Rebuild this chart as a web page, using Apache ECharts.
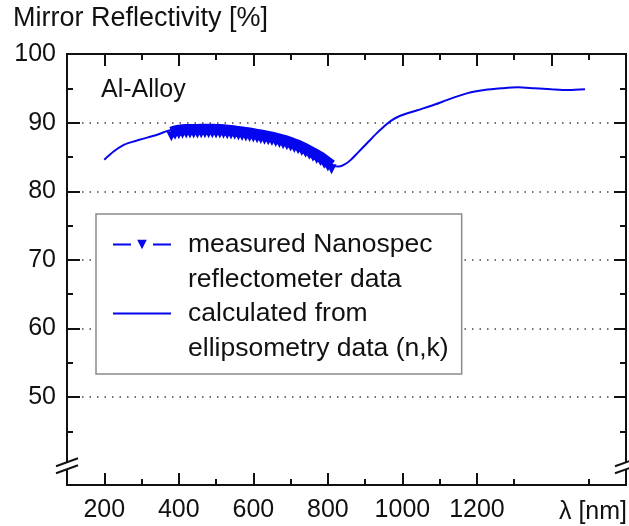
<!DOCTYPE html>
<html>
<head>
<meta charset="utf-8">
<script src="https://cdn.jsdelivr.net/npm/echarts@6/dist/echarts.min.js"></script>
<style>
  html, body { margin: 0; padding: 0; background: #fff; }
  #chart { width: 629px; height: 526px; }
</style>
</head>
<body>
<div id="chart"></div>
<script>
    'use strict';

    // wavelength axis [nm]
    const xMin = 100, xMax = 1600;
    const xBottomMajor = [200, 400, 600, 800, 1000, 1200];
    const xTopMajor = [200, 400, 600, 800, 1000, 1200, 1400];
    const xMinor = [300, 500, 700, 900, 1100, 1300, 1500];

    // reflectivity axis [%], broken at 40
    const yMin = 37.2, yMax = 100;
    const yMajor = [50, 60, 70, 80, 90, 100];
    const yMinor = [45, 55, 65, 75, 85, 95];
    const yBreak = 40;

    // calculated from ellipsometry data (n,k)
    const calcWl = [200, 225, 250, 275, 300, 340, 370, 400, 450, 500, 550, 600, 650, 700, 750, 800,
                    815, 830, 845, 860, 880, 905, 930, 950, 970, 990, 1040, 1085, 1130, 1175, 1220,
                    1265, 1310, 1355, 1400, 1445, 1490];
    const calcR = [84.6, 85.8, 86.7, 87.2, 87.6, 88.2, 88.8, 89.2, 89.3, 89.3, 89.1, 88.8, 88.2, 87.4, 86.1, 84.3,
                   83.7, 83.6, 83.9, 84.5, 85.6, 87.0, 88.4, 89.4, 90.3, 90.9, 91.8, 92.6, 93.5, 94.3, 94.75,
                   95.0, 95.15, 95.0, 94.85, 94.75, 94.85];

    // measured Nanospec reflectometer data
    const measWl = [380, 390, 400, 410, 420, 430, 440, 450, 460, 470, 480, 490, 500, 510, 520, 530,
                    540, 550, 560, 570, 580, 590, 600, 610, 620, 630, 640, 650, 660, 670, 680, 690,
                    700, 710, 720, 730, 740, 750, 760, 770, 780, 790, 800, 810];
    const measR = [88.6, 88.8, 88.9, 88.95, 89.0, 89.0, 89.0, 89.0, 89.05, 89.05, 89.05, 89.05, 89.0, 89.0, 88.95, 88.9,
                   88.85, 88.8, 88.7, 88.65, 88.55, 88.5, 88.4, 88.3, 88.2, 88.1, 88.0, 87.9, 87.75, 87.6, 87.45, 87.3,
                   87.1, 86.9, 86.7, 86.45, 86.2, 85.9, 85.6, 85.3, 85.0, 84.6, 84.2, 83.8];

    const seriesNames = ['measured Nanospec\nreflectometer data', 'calculated from\nellipsometry data (n,k)'];

    const FONT = 'Liberation Sans';
    const BLUE = '#0505ee';
    const INK = '#111';

    let chart = echarts.init(document.getElementById('chart'), null, {renderer: 'canvas'});

    function zip(xs, ys) {
        return xs.map((x, i) => [x, ys[i]]);
    }

    // one axis layer: ticks at given values, optional labels / grid lines
    function xAxisLayer(position, ticks, len, labels) {
        return {
            type: 'value', position: position, min: xMin, max: xMax,
            axisLine: {show: true, onZero: false, lineStyle: {color: INK, width: 2}},
            axisTick: {show: true, inside: true, length: len, customValues: ticks, lineStyle: {color: INK, width: 2}},
            axisLabel: labels ? {show: true, customValues: labels, margin: 13, fontFamily: FONT, fontSize: 25, color: INK,
                                 formatter: v => String(v)}
                              : {show: false},
            splitLine: {show: false}
        };
    }

    function yAxisLayer(position, ticks, len, labels, grid) {
        return {
            type: 'value', position: position, min: yMin, max: yMax,
            axisLine: {show: true, onZero: false, lineStyle: {color: INK, width: 2}},
            axisTick: {show: true, inside: true, length: len, customValues: ticks, lineStyle: {color: INK, width: 2}},
            axisLabel: labels ? {show: true, customValues: labels, margin: 11, fontFamily: FONT, fontSize: 25, color: INK,
                                 formatter: v => String(v)}
                              : {show: false},
            splitLine: grid ? {show: true, lineStyle: {color: '#444', width: 1.5, type: [1.5, 6]}} : {show: false}
        };
    }

    let option = {
        animation: false,
        backgroundColor: '#fff',
        grid: {left: 67, right: 3, top: 54, bottom: 41, containLabel: false},
        xAxis: [
            xAxisLayer('bottom', xBottomMajor, 12, xBottomMajor),
            xAxisLayer('bottom', xMinor, 6),
            xAxisLayer('top', xTopMajor, 12),
            xAxisLayer('top', xMinor, 6)
        ],
        yAxis: [
            yAxisLayer('left', yMajor, 13, yMajor, true),
            yAxisLayer('left', yMinor, 6),
            yAxisLayer('right', yMajor.slice(0, 5), 12),
            yAxisLayer('right', yMinor, 6)
        ],
        legend: {
            orient: 'vertical',
            left: 96, top: 214,
            // a blank first line keeps the icon level with the first text line
            padding: [-22, 13, 8, 16],
            itemWidth: 58, itemHeight: 12, itemGap: -36,
            backgroundColor: '#fff',
            borderColor: '#8a8a8a', borderWidth: 1.5,
            selectedMode: false,
            formatter: name => ' \n' + name,
            textStyle: {fontFamily: FONT, fontSize: 26.5, color: INK, lineHeight: 35, padding: [0, 0, 0, 12]},
            data: [
                {name: seriesNames[0], lineStyle: {width: 2, type: [18, 22]}},
                {name: seriesNames[1], itemStyle: {opacity: 0}, lineStyle: {width: 2}}
            ]
        },
        series: [
            {
                name: seriesNames[1],
                type: 'line',
                xAxisIndex: 0, yAxisIndex: 0,
                data: zip(calcWl, calcR),
                symbol: 'none',
                smooth: 0.3,
                lineStyle: {color: BLUE, width: 2},
                itemStyle: {color: BLUE}
            },
            {
                name: seriesNames[0],
                type: 'line',
                xAxisIndex: 0, yAxisIndex: 0,
                data: zip(measWl, measR),
                symbol: 'triangle',
                symbolRotate: 180,
                symbolSize: 10,
                symbolOffset: [0, 4],
                showSymbol: true,
                lineStyle: {color: BLUE, width: 11},
                itemStyle: {color: BLUE}
            }
        ]
    };

    chart.setOption(option);

    // axis break marks "//" and free text, placed from the axis scales
    let yb = chart.convertToPixel({yAxisIndex: 0}, yBreak);
    let xl = chart.convertToPixel({xAxisIndex: 0}, xMin);
    let xr = chart.convertToPixel({xAxisIndex: 0}, xMax);

    function breakMark(x0) {
        const w = 11, gap = 3.5;
        return [
            {type: 'polygon', z: 50, shape: {points: [[x0 - 3, yb - gap + 1], [x0 + 3, yb - gap - 1], [x0 + 3, yb + gap - 1], [x0 - 3, yb + gap + 1]]},
             style: {fill: '#fff'}},
            {type: 'line', z: 51, shape: {x1: x0 - w, y1: yb - gap + 4, x2: x0 + w, y2: yb - gap - 4}, style: {stroke: INK, lineWidth: 2}},
            {type: 'line', z: 51, shape: {x1: x0 - w, y1: yb + gap + 4, x2: x0 + w, y2: yb + gap - 4}, style: {stroke: INK, lineWidth: 2}}
        ];
    }

    chart.setOption({
        graphic: [
            {type: 'text', left: 13, top: 5, z: 60,
             style: {text: 'Mirror Reflectivity [%]', fontFamily: FONT, fontSize: 27, fill: INK}},
            {type: 'text', left: 101, top: 78, z: 60,
             style: {text: 'Al-Alloy', fontFamily: FONT, fontSize: 25, fill: INK}},
            {type: 'text', right: 2, top: 500, z: 60,
             style: {text: 'λ [nm]', fontFamily: FONT, fontSize: 25, fill: INK}}
        ].concat(breakMark(xl), breakMark(xr))
    });
</script>
</body>
</html>
